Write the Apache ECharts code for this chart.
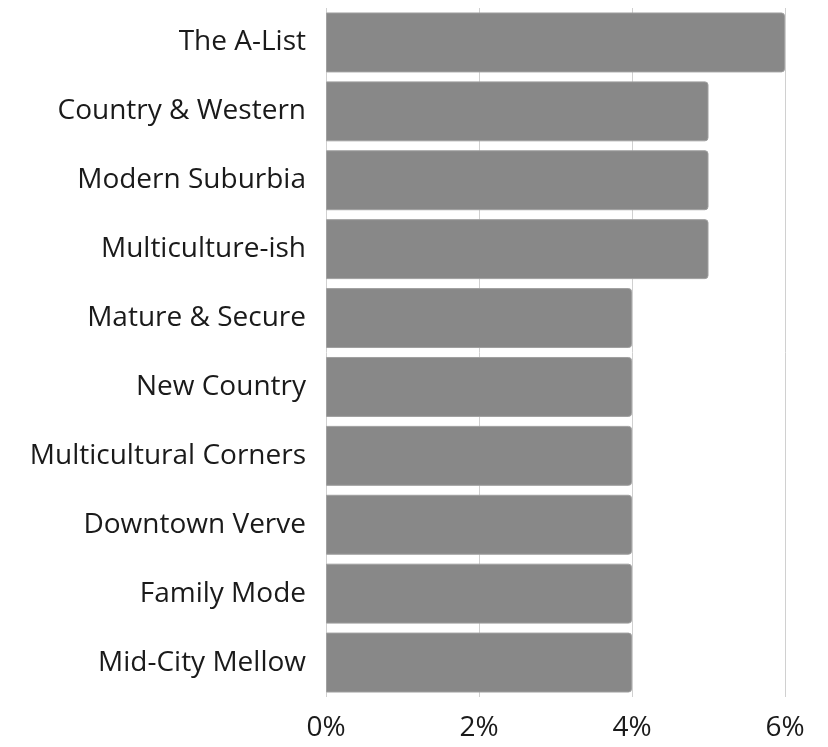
<!DOCTYPE html>
<html>
<head>
<meta charset="utf-8">
<script src="https://cdn.jsdelivr.net/npm/echarts@6/dist/echarts.min.js"></script>
<style>
  html, body { margin: 0; padding: 0; background: #fff; }
  #chart { width: 828px; height: 747px; }
</style>
</head>
<body>
<div id="chart"></div>
<script>
  // top to bottom as shown
  const segments = [
    "The A-List", "Country & Western", "Modern Suburbia", "Multiculture-ish",
    "Mature & Secure", "New Country", "Multicultural Corners", "Downtown Verve",
    "Family Mode", "Mid-City Mellow",
  ];
  const shares = [6, 5, 5, 5, 4, 4, 4, 4, 4, 4];
  const xTicks = [0, 2, 4, 6];

  const chart = echarts.init(document.getElementById("chart"));
  const font = "'Open Sans', 'Noto Sans', sans-serif";

  chart.setOption({
    animation: false,
    grid: { left: 326, right: 43, top: 8, bottom: 50, containLabel: false },
    xAxis: {
      type: "value",
      min: xTicks[0],
      max: xTicks[xTicks.length - 1],
      interval: 2,
      axisLine: { show: false },
      axisTick: { show: false },
      axisLabel: { formatter: "{value}%", fontFamily: font, fontSize: 28, color: "#1a1a1a", margin: 17 },
      splitLine: { show: true, lineStyle: { color: "#d0d0d0", width: 1 } },
    },
    yAxis: {
      type: "category",
      inverse: true,
      data: segments,
      axisLine: { show: false },
      axisTick: { show: false },
      axisLabel: { fontFamily: font, fontSize: 28, color: "#1a1a1a", margin: 20, padding: [5, 0, 0, 0] },
    },
    series: [{
      type: "bar",
      data: shares,
      barCategoryGap: "13%",
      itemStyle: { color: "#888888", borderColor: "#a0a0a0", borderWidth: 1, borderRadius: [0, 3, 3, 0] },
    }],
  });
</script>
</body>
</html>
